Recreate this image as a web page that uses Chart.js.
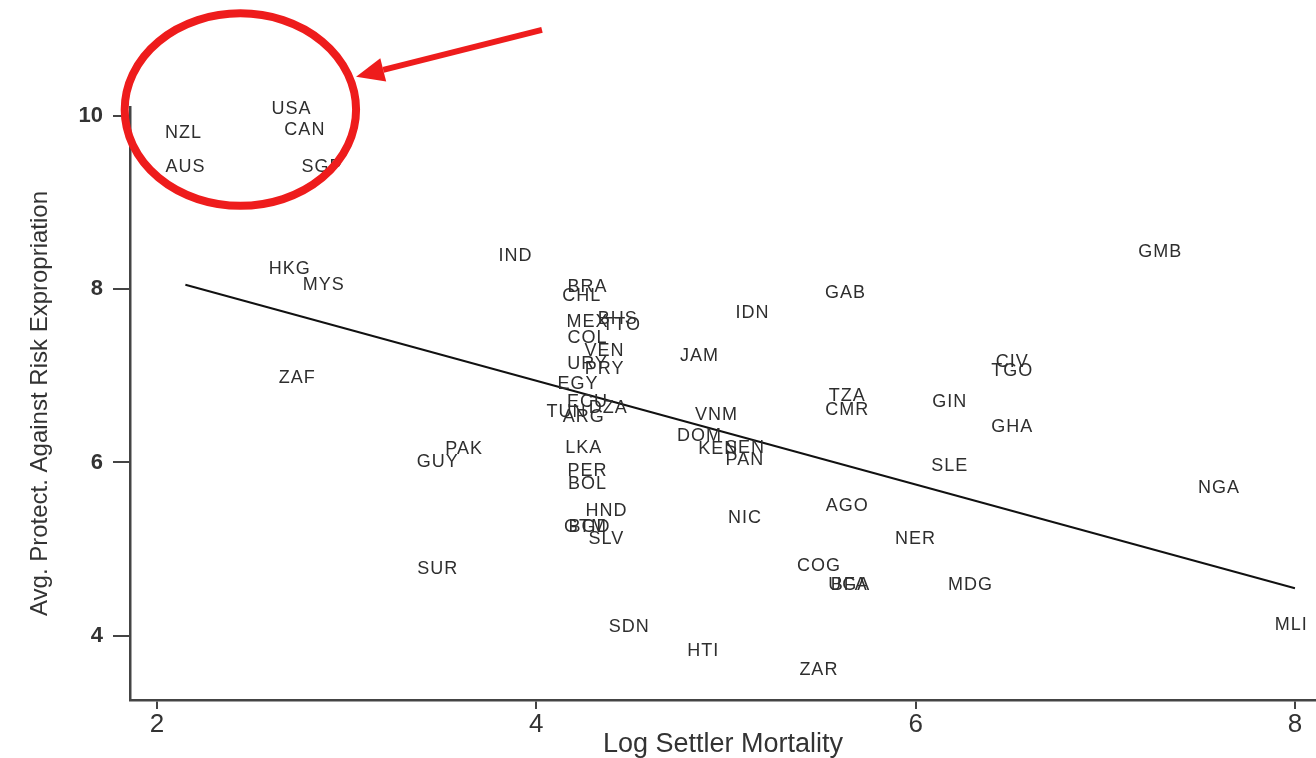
<!DOCTYPE html>
<html lang="en">
<head>
    <meta charset="UTF-8">
    <title>Log Settler Mortality vs Expropriation Risk</title>
    <style>
        html, body { margin: 0; padding: 0; background: #ffffff; }
        #chart { display: block; }
    </style>
    <script src="https://cdn.jsdelivr.net/npm/chart.js@4.4.1/dist/chart.umd.min.js"></script>
</head>
<body>
    <canvas id="chart" width="1316" height="758"></canvas>

    <script>
        // country codes and their (log settler mortality, avg. protection) values
        const countries = ['USA', 'NZL', 'CAN', 'AUS', 'SGP', 'HKG', 'MYS', 'IND', 'ZAF',
            'BRA', 'CHL', 'MEX', 'BHS', 'TTO', 'COL', 'VEN', 'URY', 'PRY', 'EGY', 'ECU',
            'DZA', 'TUN', 'ARG', 'LKA', 'PER', 'BOL', 'HND', 'GTM', 'BGD', 'SLV', 'PAK',
            'GUY', 'SUR', 'SDN', 'HTI', 'ZAR', 'JAM', 'IDN', 'VNM', 'DOM', 'KEN', 'SEN',
            'PAN', 'NIC', 'GAB', 'TZA', 'CMR', 'AGO', 'COG', 'UGA', 'BFA', 'NER', 'MDG',
            'GIN', 'SLE', 'GHA', 'CIV', 'TGO', 'GMB', 'NGA', 'MLI'];
        const logMortality = [2.71, 2.14, 2.78, 2.15, 2.87, 2.70, 2.88, 3.89, 2.74,
            4.27, 4.24, 4.27, 4.43, 4.45, 4.27, 4.36, 4.27, 4.36, 4.22, 4.27,
            4.38, 4.16, 4.25, 4.25, 4.27, 4.27, 4.37, 4.26, 4.28, 4.37, 3.62,
            3.48, 3.48, 4.49, 4.88, 5.49, 4.86, 5.14, 4.95, 4.86, 4.96, 5.10,
            5.10, 5.10, 5.63, 5.64, 5.64, 5.64, 5.49, 5.65, 5.65, 6.00, 6.29,
            6.18, 6.18, 6.51, 6.51, 6.51, 7.29, 7.60, 7.98];
        const protection = [10.08, 9.80, 9.83, 9.41, 9.41, 8.23, 8.05, 8.38, 6.97,
            8.02, 7.92, 7.62, 7.65, 7.58, 7.44, 7.28, 7.14, 7.08, 6.91, 6.70,
            6.63, 6.58, 6.52, 6.17, 5.90, 5.75, 5.44, 5.26, 5.26, 5.12, 6.16,
            6.00, 4.77, 4.10, 3.83, 3.61, 7.23, 7.72, 6.55, 6.31, 6.15, 6.17,
            6.03, 5.36, 7.95, 6.77, 6.60, 5.50, 4.81, 4.59, 4.59, 5.12, 4.59,
            6.70, 5.96, 6.41, 7.16, 7.06, 8.43, 5.71, 4.13];

        // fitted line end points
        const fitX = [2.15, 8.00];
        const fitY = [8.05, 4.55];

        const xTickValues = [2, 4, 6, 8];
        const yTickValues = [4, 6, 8, 10];

        // red highlight (data units)
        const highlight = { cx: 2.44, cy: 10.07, rx: 0.61, ry: 1.11 };
        const arrowFrom = { x: 4.03, y: 10.99 };
        const arrowTo = { x: 3.05, y: 10.45 };

        const scatterPoints = logMortality.map((x, i) => ({ x: x, y: protection[i] }));
        const fitPoints = fitX.map((x, i) => ({ x: x, y: fitY[i] }));

        const countryLabels = {
            id: 'countryLabels',
            afterDatasetsDraw(chart) {
                const ctx = chart.ctx;
                const meta = chart.getDatasetMeta(0);
                ctx.save();
                ctx.font = '18px "Liberation Sans", Arial, sans-serif';
                ctx.letterSpacing = '1px';
                ctx.fillStyle = '#2e2e2e';
                ctx.textAlign = 'center';
                ctx.textBaseline = 'middle';
                meta.data.forEach((el, i) => {
                    ctx.fillText(countries[i], el.x, el.y);
                });
                ctx.restore();
            }
        };

        const redHighlight = {
            id: 'redHighlight',
            afterDraw(chart) {
                const { ctx, scales: { x, y } } = chart;
                const cx = x.getPixelForValue(highlight.cx);
                const cy = y.getPixelForValue(highlight.cy);
                const rx = x.getPixelForValue(highlight.cx + highlight.rx) - cx;
                const ry = cy - y.getPixelForValue(highlight.cy + highlight.ry);
                ctx.save();
                ctx.strokeStyle = '#ee1c1c';
                ctx.fillStyle = '#ee1c1c';
                ctx.lineWidth = 8;
                ctx.beginPath();
                ctx.ellipse(cx, cy, rx, ry, 0, 0, Math.PI * 2);
                ctx.stroke();

                // arrow
                const x0 = x.getPixelForValue(arrowFrom.x), y0 = y.getPixelForValue(arrowFrom.y);
                const x1 = x.getPixelForValue(arrowTo.x), y1 = y.getPixelForValue(arrowTo.y);
                const ang = Math.atan2(y1 - y0, x1 - x0);
                const headLen = 28, headW = 12;
                const bx = x1 - headLen * Math.cos(ang), by = y1 - headLen * Math.sin(ang);
                ctx.lineWidth = 6;
                ctx.beginPath();
                ctx.moveTo(x0, y0);
                ctx.lineTo(bx, by);
                ctx.stroke();
                ctx.beginPath();
                ctx.moveTo(x1, y1);
                ctx.lineTo(bx + headW * Math.sin(ang), by - headW * Math.cos(ang));
                ctx.lineTo(bx - headW * Math.sin(ang), by + headW * Math.cos(ang));
                ctx.closePath();
                ctx.fill();
                ctx.restore();
            }
        };

        new Chart(document.getElementById('chart'), {
            type: 'scatter',
            data: {
                datasets: [
                    {
                        label: 'Countries',
                        data: scatterPoints,
                        pointRadius: 0,
                        pointHoverRadius: 0
                    },
                    {
                        type: 'line',
                        label: 'Fitted',
                        data: fitPoints,
                        borderColor: '#111111',
                        borderWidth: 2,
                        pointRadius: 0,
                        fill: false
                    }
                ]
            },
            options: {
                responsive: false,
                animation: false,
                layout: { padding: { top: 107, right: 0, left: 0, bottom: 0 } },
                plugins: {
                    legend: { display: false },
                    tooltip: { enabled: false }
                },
                scales: {
                    x: {
                        type: 'linear',
                        min: 1.858,
                        max: 8.111,
                        afterBuildTicks: s => { s.ticks = xTickValues.map(v => ({ value: v })); },
                        afterFit: s => { s.height = 58; },
                        border: { display: true, color: '#444', width: 2.5 },
                        grid: { drawOnChartArea: false, drawTicks: true, tickLength: 9, color: '#444', lineWidth: 2 },
                        ticks: {
                            padding: 0,
                            color: '#333',
                            font: { family: '"Liberation Sans Narrow", "Liberation Sans", Arial', size: 26 }
                        },
                        title: {
                            display: true,
                            text: 'Log Settler Mortality',
                            color: '#333',
                            padding: { top: 0, bottom: 0 },
                            font: { family: '"Liberation Sans", Arial', size: 27, lineHeight: 1.0 }
                        }
                    },
                    y: {
                        type: 'linear',
                        min: 3.26,
                        max: 10.10,
                        afterBuildTicks: s => { s.ticks = yTickValues.map(v => ({ value: v })); },
                        afterFit: s => { s.width = 130; },
                        border: { display: true, color: '#444', width: 2.5 },
                        grid: { drawOnChartArea: false, drawTicks: true, tickLength: 17, color: '#444', lineWidth: 2 },
                        ticks: {
                            padding: 10,
                            color: '#333',
                            font: { family: '"Liberation Sans", Arial', size: 22, weight: 'bold' }
                        },
                        title: {
                            display: true,
                            text: 'Avg. Protect. Against Risk Expropriation',
                            color: '#333',
                            padding: { top: 26, bottom: 0 },
                            font: { family: '"Liberation Sans", Arial', size: 24, lineHeight: 1.2 }
                        }
                    }
                }
            },
            plugins: [countryLabels, redHighlight]
        });
    </script>
</body>
</html>
